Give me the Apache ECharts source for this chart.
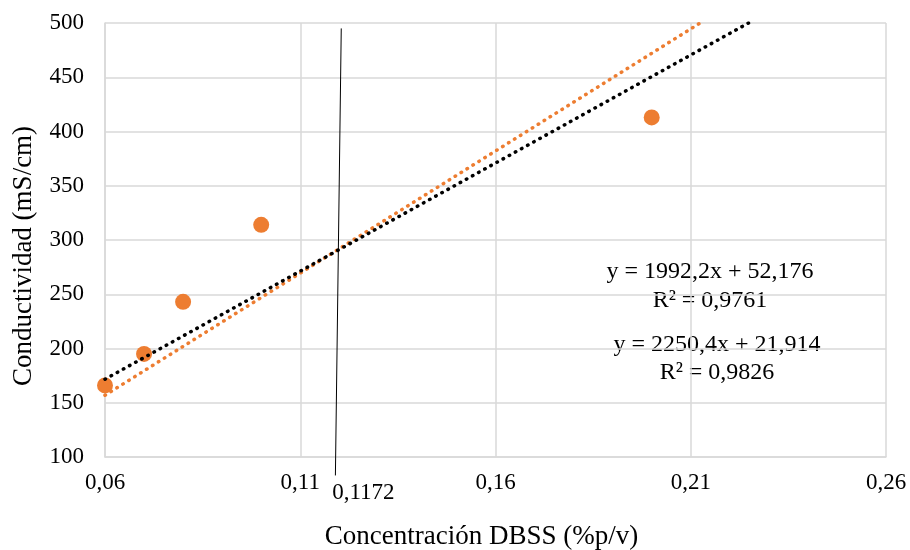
<!DOCTYPE html>
<html>
<head>
<meta charset="utf-8">
<script src="https://cdn.jsdelivr.net/npm/echarts@6/dist/echarts.min.js"></script>
<style>html,body{margin:0;padding:0;background:#fff;}#c{width:910px;height:550px;}</style>
</head>
<body>
<div id="c"></div>
<script>
// Measured points
const xValues = [0.06, 0.07, 0.08, 0.10, 0.20];
const yValues = [166, 195, 243, 314, 413];
const blackTrendX = [0.06, 0.2248];
const blackTrendY = [171.7, 500];
const orangeTrendX = [0.06, 0.2124];
const orangeTrendY = [156.9, 500];
// Hand-drawn marker line at 0,1172
const markerX = [0.1205, 0.119];
const markerY = [495, 83];
const markerLabel = '0,1172';
const equations = ['y = 1992,2x + 52,176', 'R² = 0,9761', 'y = 2250,4x + 21,914', 'R² = 0,9826'];
const xTicks = { min: 0.06, max: 0.26, interval: 0.05 };
const yTicks = { min: 100, max: 500, interval: 50 };

const zip = (a, b) => a.map((v, i) => [v, b[i]]);
const font = 'Liberation Serif';
const chart = echarts.init(document.getElementById('c'), null, { renderer: 'canvas' });
const dot = { type: [0.5, 6.5], cap: 'round', width: 3.5 };
const eqFont = '24px "Liberation Serif"';

chart.setOption({
  animation: false,
  backgroundColor: '#fff',
  grid: { left: 105, right: 24, top: 23, bottom: 93, containLabel: false, outerBoundsMode: 'none' },
  xAxis: {
    type: 'value', min: xTicks.min, max: xTicks.max, interval: xTicks.interval,
    name: 'Concentración DBSS (%p/v)', nameLocation: 'middle', nameGap: 66,
    nameTextStyle: { fontFamily: font, fontSize: 27, color: '#000', padding: [0, 28, 0, 0] },
    axisLine: { show: true, lineStyle: { color: '#d9d9d9', width: 1.5 } },
    axisTick: { show: false },
    splitLine: { show: true, lineStyle: { color: '#d9d9d9', width: 1.5 } },
    axisLabel: { fontFamily: font, fontSize: 23, color: '#000', margin: 14,
      formatter: v => v.toFixed(2).replace('.', ',') }
  },
  yAxis: {
    type: 'value', min: yTicks.min, max: yTicks.max, interval: yTicks.interval,
    name: 'Conductividad (mS/cm)', nameLocation: 'middle', nameGap: 68, nameRotate: 90,
    nameTextStyle: { fontFamily: font, fontSize: 27, color: '#000', padding: [0, 32, 0, 0] },
    axisLine: { show: true, lineStyle: { color: '#d9d9d9', width: 1.5 } },
    axisTick: { show: false },
    splitLine: { show: true, lineStyle: { color: '#d9d9d9', width: 1.5 } },
    axisLabel: { fontFamily: font, fontSize: 23, color: '#000', margin: 21 }
  },
  series: [
    { type: 'scatter', data: zip(xValues, yValues), symbolSize: 16,
      itemStyle: { color: '#ED7D31', opacity: 1 }, z: 2 },
    { type: 'line', data: zip(orangeTrendX, orangeTrendY), symbol: 'none',
      lineStyle: Object.assign({ color: '#ED7D31' }, dot), z: 3 },
    { type: 'line', data: zip(blackTrendX, blackTrendY), symbol: 'none',
      lineStyle: Object.assign({ color: '#000' }, dot), z: 4 },
    { type: 'line', data: zip(markerX, markerY), symbol: 'none', clip: false,
      lineStyle: { color: '#000', width: 1 }, z: 5 },
    { type: 'scatter', data: [[markerX[1], markerY[1]]], symbolSize: 0, clip: false,
      itemStyle: { opacity: 1, color: '#000' },
      label: { show: true, position: 'bottom', distance: 6, offset: [28, 0],
        formatter: markerLabel, fontFamily: font, fontSize: 23, color: '#000', opacity: 1 }, z: 5 }
  ],
  graphic: [
    { type: 'text', x: 710, y: 272, style: { text: equations[0], font: eqFont, fill: '#000', align: 'center', verticalAlign: 'middle' } },
    { type: 'text', x: 710, y: 301, style: { text: equations[1], font: eqFont, fill: '#000', align: 'center', verticalAlign: 'middle' } },
    { type: 'text', x: 717, y: 345, style: { text: equations[2], font: eqFont, fill: '#000', align: 'center', verticalAlign: 'middle' } },
    { type: 'text', x: 717, y: 373, style: { text: equations[3], font: eqFont, fill: '#000', align: 'center', verticalAlign: 'middle' } }
  ]
});
</script>
</body>
</html>
